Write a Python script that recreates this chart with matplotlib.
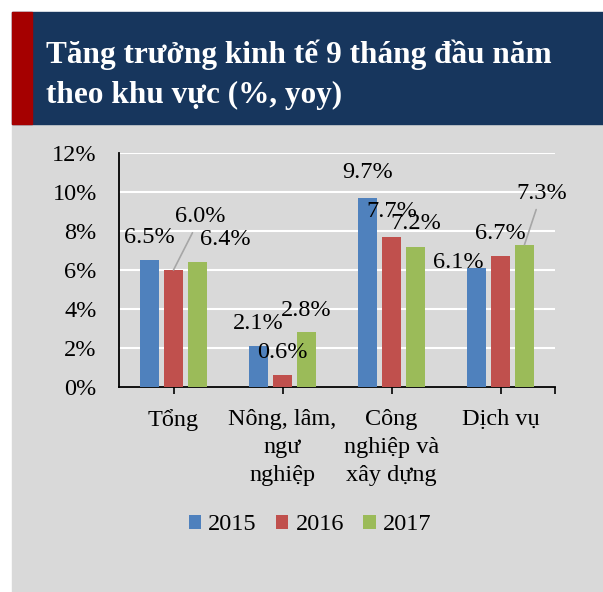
import matplotlib.pyplot as plt
from matplotlib.patches import Rectangle

# data
categories = ['Tổng', 'Nông, lâm,\nngư\nnghiệp', 'Công\nnghiệp và\nxây dựng', 'Dịch vụ']
years = ['2015', '2016', '2017']
g2015 = [6.5, 2.1, 9.7, 6.1]
g2016 = [6.0, 0.6, 7.7, 6.7]
g2017 = [6.4, 2.8, 7.2, 7.3]
yticks = [0, 2, 4, 6, 8, 10, 12]
title_lines = ['Tăng trưởng kinh tế 9 tháng đầu năm', 'theo khu vực (%, yoy)']

# styling
colors = ['#4f81bd', '#c0504d', '#9bbb59']
navy = '#17365d'
dark_red = '#a50000'
grey = '#d9d9d9'
fs = 17.5
# label offsets in pixels from bar top (x, y), and whether to draw a leader line
label_offsets = [
    [(0, 23), (0, 23), (0, 25), (-18, 6)],
    [(27, 53), (0, 23), (0, 25), (0, 23)],
    [(28, 23), (0, 22), (0, 23), (17, 51)],
]
leaders = [
    [False, False, False, False],
    [True, False, False, False],
    [False, False, False, True],
]

plt.rcParams['font.family'] = ['Liberation Serif', 'DejaVu Serif']

fig = plt.figure(figsize=(6.03, 5.92), dpi=100)
fig.patch.set_facecolor('white')

W, H = 603, 592
fig.patches.append(Rectangle((12 / W, 0), 1 - 12 / W, 1 - 124 / H,
                             transform=fig.transFigure, color=grey, zorder=-10))
fig.patches.append(Rectangle((12 / W, 1 - 124 / H), 1 - 12 / W, 112 / H,
                             transform=fig.transFigure, color=navy, zorder=-10))
fig.patches.append(Rectangle((12 / W, 1 - 124 / H), 20 / W, 112 / H,
                             transform=fig.transFigure, color=dark_red, zorder=-10))

fig.text(46 / W, 1 - 63 / H, title_lines[0], color='white', fontsize=22.5,
         fontweight='bold', va='baseline', ha='left')
fig.text(46 / W, 1 - 103 / H, title_lines[1], color='white', fontsize=22.5,
         fontweight='bold', va='baseline', ha='left')

ax = fig.add_axes([119 / W, 1 - 387 / H, 436 / W, 234 / H])
ax.set_facecolor(grey)

series = [g2015, g2016, g2017]
width = 0.175
step = 0.22
x = list(range(len(categories)))
for i, vals in enumerate(series):
    xs = [xi + (i - 1) * step for xi in x]
    ax.bar(xs, vals, width=width, color=colors[i], label=years[i], zorder=3)
    for j, v in enumerate(vals):
        dx, dy = label_offsets[i][j]
        if leaders[i][j]:
            ax.annotate(f'{v:.1f}%', xy=(xs[j], v), xytext=(dx, dy),
                        textcoords='offset pixels', ha='center', va='center',
                        fontsize=fs, zorder=4,
                        arrowprops=dict(arrowstyle='-', color='#a6a6a6', lw=1.2,
                                        shrinkA=2, shrinkB=0))
        else:
            ax.annotate(f'{v:.1f}%', xy=(xs[j], v), xytext=(dx, dy),
                        textcoords='offset pixels', ha='center', va='center',
                        fontsize=fs, zorder=4)

ax.set_xlim(-0.5, len(categories) - 0.5)
ax.set_ylim(0, 12)
ax.set_yticks(yticks)
ax.set_yticklabels([f'{t}%' for t in yticks])
ax.set_xticks(x)
ax.set_xticklabels(categories, linespacing=1.42)
ax.set_xticks([len(categories) - 0.5], minor=True)
ax.tick_params(axis='y', length=0, pad=16, labelsize=fs)
ax.tick_params(axis='x', which='both', length=5, width=1.2, pad=11, labelsize=fs)
ax.grid(axis='y', color='white', linewidth=1.5, zorder=1)
ax.set_axisbelow(True)
for s in ['top', 'right']:
    ax.spines[s].set_visible(False)
ax.spines['left'].set_linewidth(1.3)
ax.spines['bottom'].set_linewidth(1.3)

fig.legend(loc='center', bbox_to_anchor=(310 / W, 1 - 525 / H), ncol=3,
           frameon=False, fontsize=fs, handlelength=0.5, handleheight=0.5,
           handletextpad=0.3, columnspacing=0.8)

fig.savefig('out.png', dpi=100)
